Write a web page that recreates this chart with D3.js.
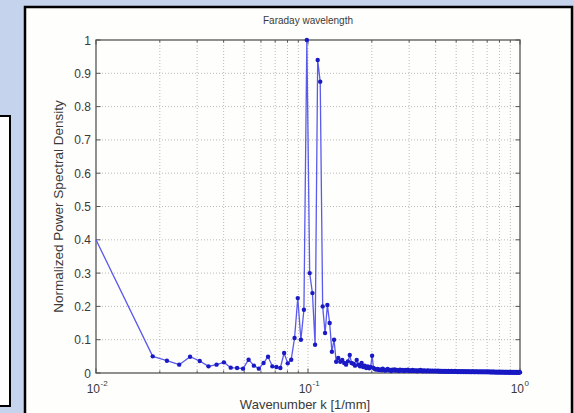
<!DOCTYPE html>
<html>
<head>
<meta charset="utf-8">
<script src="https://cdn.jsdelivr.net/npm/d3@7/dist/d3.min.js"></script>
<style>
  html, body { margin: 0; padding: 0; background: #c5d3ec; }
  svg { display: block; }
  text { font-family: "Liberation Sans", Arial, sans-serif; fill: #3a3a3a; }
</style>
</head>
<body>
<svg width="574" height="413"></svg>
<script>
// FFT bin spacing [1/mm] and index of the first bin drawn after the edge sample
var dk = 0.003086,
    firstBin = 6;

// leftmost sample, sitting on the axis edge
var edgeK = 0.01,
    edgePsd = 0.40;

// normalized PSD, one value per bin starting at firstBin
var psd = [
  0.050, 0.037, 0.025, 0.049, 0.036, 0.020, 0.025, 0.032, 0.016, 0.015,
  0.013, 0.040, 0.022, 0.013, 0.030, 0.049, 0.020, 0.018, 0.015, 0.060,
  0.029, 0.040, 0.105, 0.225, 0.100, 0.190, 1.000, 0.300, 0.240, 0.085,
  0.940, 0.875, 0.200, 0.120, 0.204, 0.150, 0.064, 0.100, 0.034, 0.045,
  0.034, 0.039, 0.030, 0.025, 0.035, 0.054, 0.030, 0.028, 0.022, 0.039,
  0.025, 0.020, 0.030, 0.018, 0.022, 0.015, 0.020, 0.014, 0.018, 0.052,
  0.015, 0.012, 0.010, 0.012, 0.009,
  0.011, 0.008, 0.013, 0.009, 0.007, 0.010, 0.012, 0.008, 0.009, 0.006, 0.010, 0.008, 0.011, 0.007, 0.009, 0.008, 0.006, 0.010, 0.007, 0.009,
  0.008, 0.006, 0.009, 0.007, 0.008, 0.010, 0.006, 0.007, 0.008, 0.006, 0.009, 0.007, 0.006, 0.008, 0.007, 0.005, 0.008, 0.006, 0.007, 0.009,
  0.006, 0.007, 0.005, 0.008, 0.006, 0.007, 0.005, 0.006, 0.008, 0.006, 0.005, 0.007, 0.006, 0.005, 0.007, 0.006, 0.005, 0.006, 0.007, 0.005,
  0.006, 0.005, 0.007, 0.005, 0.006, 0.004, 0.006, 0.005, 0.006, 0.004, 0.005, 0.006, 0.005, 0.004, 0.006, 0.005, 0.004, 0.005, 0.006, 0.004,
  0.005, 0.004, 0.005, 0.006, 0.004, 0.005, 0.004, 0.005, 0.004, 0.006, 0.004, 0.005, 0.004, 0.005, 0.003, 0.005, 0.004, 0.005, 0.004, 0.003,
  0.005, 0.004, 0.004, 0.005, 0.003, 0.004, 0.005, 0.004, 0.003, 0.004, 0.005, 0.003, 0.004, 0.004, 0.003, 0.005, 0.004, 0.003, 0.004, 0.003,
  0.004, 0.003, 0.004, 0.005, 0.003, 0.004, 0.003, 0.004, 0.003, 0.004, 0.003, 0.004, 0.004, 0.003, 0.004, 0.003, 0.003, 0.004, 0.003, 0.004,
  0.003, 0.004, 0.003, 0.003, 0.004, 0.003, 0.004, 0.003, 0.003, 0.004, 0.003, 0.003, 0.004, 0.003, 0.003, 0.004, 0.003, 0.003, 0.004, 0.003,
  0.003, 0.003, 0.004, 0.003, 0.003, 0.002, 0.003, 0.004, 0.003, 0.003, 0.002, 0.003, 0.003, 0.004, 0.003, 0.002, 0.003, 0.003, 0.002, 0.003,
  0.003, 0.002, 0.003, 0.003, 0.002, 0.003, 0.003, 0.002, 0.003, 0.002, 0.003, 0.003, 0.002, 0.003, 0.002, 0.003, 0.002, 0.003, 0.003, 0.002,
  0.003, 0.002, 0.003, 0.002, 0.002, 0.003, 0.002, 0.003, 0.002, 0.002, 0.003, 0.002, 0.002, 0.003, 0.002, 0.002, 0.003, 0.002, 0.002, 0.003,
  0.002, 0.002, 0.003, 0.002, 0.002, 0.002, 0.003, 0.002, 0.002, 0.002, 0.003, 0.002, 0.002, 0.002, 0.002, 0.003, 0.002, 0.002, 0.002, 0.002,
  0.003, 0.002, 0.002, 0.002, 0.002, 0.002, 0.003, 0.002, 0.002, 0.002, 0.002, 0.002, 0.002, 0.002
];

var yTicks = [0, 0.1, 0.2, 0.3, 0.4, 0.5, 0.6, 0.7, 0.8, 0.9, 1],
    yTickLabels = ["0", "0.1", "0.2", "0.3", "0.4", "0.5", "0.6", "0.7", "0.8", "0.9", "1"],
    xTicks = [0.01, 0.1, 1],
    xTickExps = ["-2", "-1", "0"];

var titleText = "Faraday wavelength",
    xLabelText = "Wavenumber k [1/mm]",
    yLabelText = "Normalized Power Spectral Density";

var svg = d3.select("svg"),
    width = +svg.attr("width"),
    height = +svg.attr("height");

var data = [{k: edgeK, v: edgePsd}].concat(psd.map(function(v, i) {
  return {k: (i + firstBin) * dk, v: v};
}));

// slide background and frames
svg.append("rect").attr("width", width).attr("height", height).attr("fill", "#c5d3ec");
svg.append("rect")
    .attr("x", -4).attr("y", 116).attr("width", 14).attr("height", 290)
    .attr("fill", "#fff").attr("stroke", "#000").attr("stroke-width", 2);
svg.append("rect")
    .attr("x", 25).attr("y", 7).attr("width", 547).attr("height", 420)
    .attr("fill", "#fefefc").attr("stroke", "#000").attr("stroke-width", 2.5);

var x = d3.scaleLog().domain([0.01, 1]).range([96, 520]),
    y = d3.scaleLinear().domain([0, 1]).range([373, 40]);

var plot = svg.append("g");

// dotted grid, minor positions included on the log axis
plot.append("g").selectAll("line")
  .data(x.ticks().filter(function(d) { return d > 0.01 && d < 1; }))
  .enter().append("line")
    .attr("x1", function(d) { return x(d); }).attr("x2", function(d) { return x(d); })
    .attr("y1", y(0)).attr("y2", y(1))
    .attr("stroke", "#a8a8a8").attr("stroke-width", 0.8).attr("stroke-dasharray", "1,2");
plot.append("g").selectAll("line")
  .data(yTicks.slice(1, -1))
  .enter().append("line")
    .attr("x1", x(0.01)).attr("x2", x(1))
    .attr("y1", function(d) { return y(d); }).attr("y2", function(d) { return y(d); })
    .attr("stroke", "#a8a8a8").attr("stroke-width", 0.8).attr("stroke-dasharray", "1,2");

// inward ticks on all four sides
var minor = x.ticks().filter(function(d) { return xTicks.indexOf(d) < 0; });
[y(0), y(1)].forEach(function(yy, side) {
  var dir = side ? 1 : -1;
  plot.append("g").selectAll("line").data(minor).enter().append("line")
      .attr("x1", function(d) { return x(d); }).attr("x2", function(d) { return x(d); })
      .attr("y1", yy).attr("y2", yy + dir * 2.5)
      .attr("stroke", "#555");
  plot.append("g").selectAll("line").data(xTicks).enter().append("line")
      .attr("x1", function(d) { return x(d); }).attr("x2", function(d) { return x(d); })
      .attr("y1", yy).attr("y2", yy + dir * 4.5)
      .attr("stroke", "#555");
});
[x(0.01), x(1)].forEach(function(xx, side) {
  var dir = side ? -1 : 1;
  plot.append("g").selectAll("line").data(yTicks).enter().append("line")
      .attr("x1", xx).attr("x2", xx + dir * 4.5)
      .attr("y1", function(d) { return y(d); }).attr("y2", function(d) { return y(d); })
      .attr("stroke", "#555");
});

plot.append("rect")
    .attr("x", x(0.01)).attr("y", y(1))
    .attr("width", x(1) - x(0.01)).attr("height", y(0) - y(1))
    .attr("fill", "none").attr("stroke", "#555").attr("stroke-width", 1.3);

// y tick labels
plot.append("g").selectAll("text")
  .data(yTicks)
  .enter().append("text")
    .attr("x", x(0.01) - 5)
    .attr("y", function(d) { return y(d) + 4.5; })
    .attr("text-anchor", "end")
    .attr("font-size", 12)
    .text(function(d, i) { return yTickLabels[i]; });

// x tick labels as 10 with superscript exponent
var xl = plot.append("g").selectAll("g")
  .data(xTicks)
  .enter().append("g")
    .attr("transform", function(d) { return "translate(" + x(d) + ",393)"; });
xl.append("text")
    .attr("x", 4).attr("text-anchor", "end").attr("font-size", 12)
    .text("10");
xl.append("text")
    .attr("x", 4.5).attr("y", -7).attr("font-size", 8)
    .text(function(d, i) { return xTickExps[i]; });

// data: line with point markers
var line = d3.line()
    .x(function(d) { return x(d.k); })
    .y(function(d) { return y(d.v); });

plot.append("path")
    .datum(data)
    .attr("d", line)
    .attr("fill", "none")
    .attr("stroke", "#5a5aec")
    .attr("stroke-width", 1.3)
    .attr("stroke-linejoin", "round");

plot.append("g").selectAll("circle")
  .data(data.slice(1))
  .enter().append("circle")
    .attr("cx", function(d) { return x(d.k); })
    .attr("cy", function(d) { return y(d.v); })
    .attr("r", 2.2)
    .attr("fill", "#1a1ac4");

// titles
svg.append("text")
    .attr("x", 308).attr("y", 24)
    .attr("text-anchor", "middle").attr("font-size", 10)
    .text(titleText);
svg.append("text")
    .attr("x", 305).attr("y", 409)
    .attr("text-anchor", "middle").attr("font-size", 13)
    .text(xLabelText);
svg.append("text")
    .attr("transform", "translate(63," + y(0.5) + ") rotate(-90)")
    .attr("text-anchor", "middle").attr("font-size", 13.5)
    .text(yLabelText);
</script>
</body>
</html>
